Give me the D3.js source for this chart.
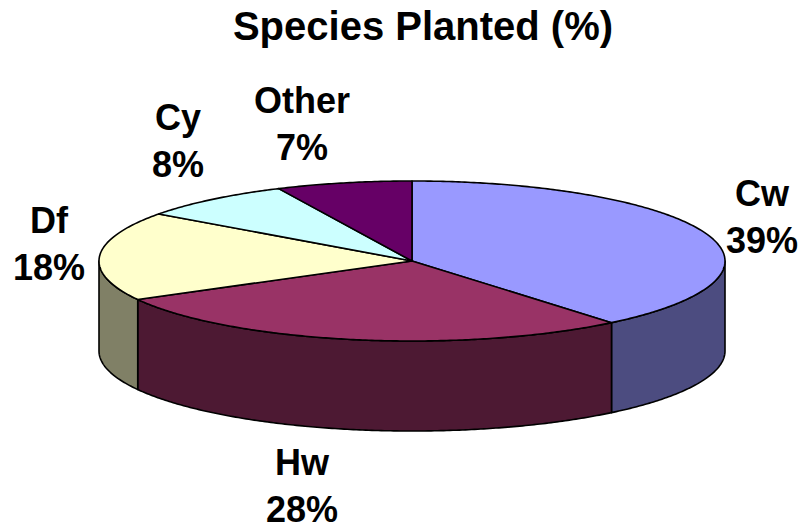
<!doctype html>
<html>
<head>
    <meta charset="UTF-8">
    <title>Species Planted</title>
    <script src="https://d3js.org/d3.v7.min.js"></script>
    <style>
        body{ margin:0; background:#fff; }
        text{ font-family:"Liberation Sans", Arial, sans-serif; font-weight:bold; fill:#000; }
    </style>
</head>
<body>
    <svg width="803" height="529" id="svg1"></svg>
    <script>
        // data
        var species = ["Cw", "Hw", "Df", "Cy", "Other"];
        var percent = [39, 28, 18, 8, 7];
        var topColors  = ["#9999FF", "#993366", "#FFFFCC", "#CCFFFF", "#660066"];
        var sideColors = ["#4C4C80", "#4D1933", "#808066", "#668080", "#330033"];
        // label anchor (centre x, baseline of first line)
        var labelPos = [[762, 206], [302, 475], [49, 233], [178, 130], [302, 113]];

        var cx = 412, cy = 261, rx = 313, ry = 80, depth = 90;
        var svg = d3.select("#svg1");

        svg.append("text")
           .attr("x", 423).attr("y", 40)
           .attr("text-anchor", "middle")
           .style("font-size", "40px")
           .text("Species Planted (%)");

        var pie = d3.pie().sort(null).value(function(d){ return d; });
        var arcs = pie(percent);

        function pt(a, dy){
            return [cx + rx*Math.sin(a), cy - ry*Math.cos(a) + (dy || 0)];
        }
        function arcPts(a0, a1, dy){
            var n = Math.max(2, Math.ceil((a1 - a0) / 0.01));
            return d3.range(n + 1).map(function(i){ return pt(a0 + (a1 - a0)*i/n, dy); });
        }
        var line = d3.line();

        // side walls (front half only: pi/2 .. 3pi/2)
        arcs.forEach(function(d, i){
            var a0 = Math.max(d.startAngle, Math.PI/2);
            var a1 = Math.min(d.endAngle, 3*Math.PI/2);
            if(a1 <= a0) return;
            var pts = arcPts(a0, a1, 0).concat(arcPts(a0, a1, depth).reverse());
            svg.append("path")
               .attr("d", line(pts) + "Z")
               .attr("fill", sideColors[i])
               .attr("stroke", "#000")
               .attr("stroke-width", 1.6)
               .attr("stroke-linejoin", "round");
        });

        // top faces
        arcs.forEach(function(d, i){
            var pts = [[cx, cy]].concat(arcPts(d.startAngle, d.endAngle, 0));
            svg.append("path")
               .attr("d", line(pts) + "Z")
               .attr("fill", topColors[i])
               .attr("stroke", "#000")
               .attr("stroke-width", 1.6)
               .attr("stroke-linejoin", "round");
        });

        // labels
        arcs.forEach(function(d, i){
            var t = svg.append("text")
               .attr("text-anchor", "middle")
               .style("font-size", "36px");
            t.append("tspan").attr("x", labelPos[i][0]).attr("y", labelPos[i][1]).text(species[i]);
            t.append("tspan").attr("x", labelPos[i][0]).attr("y", labelPos[i][1] + 47).text(percent[i] + "%");
        });
    </script>
</body>
</html>
